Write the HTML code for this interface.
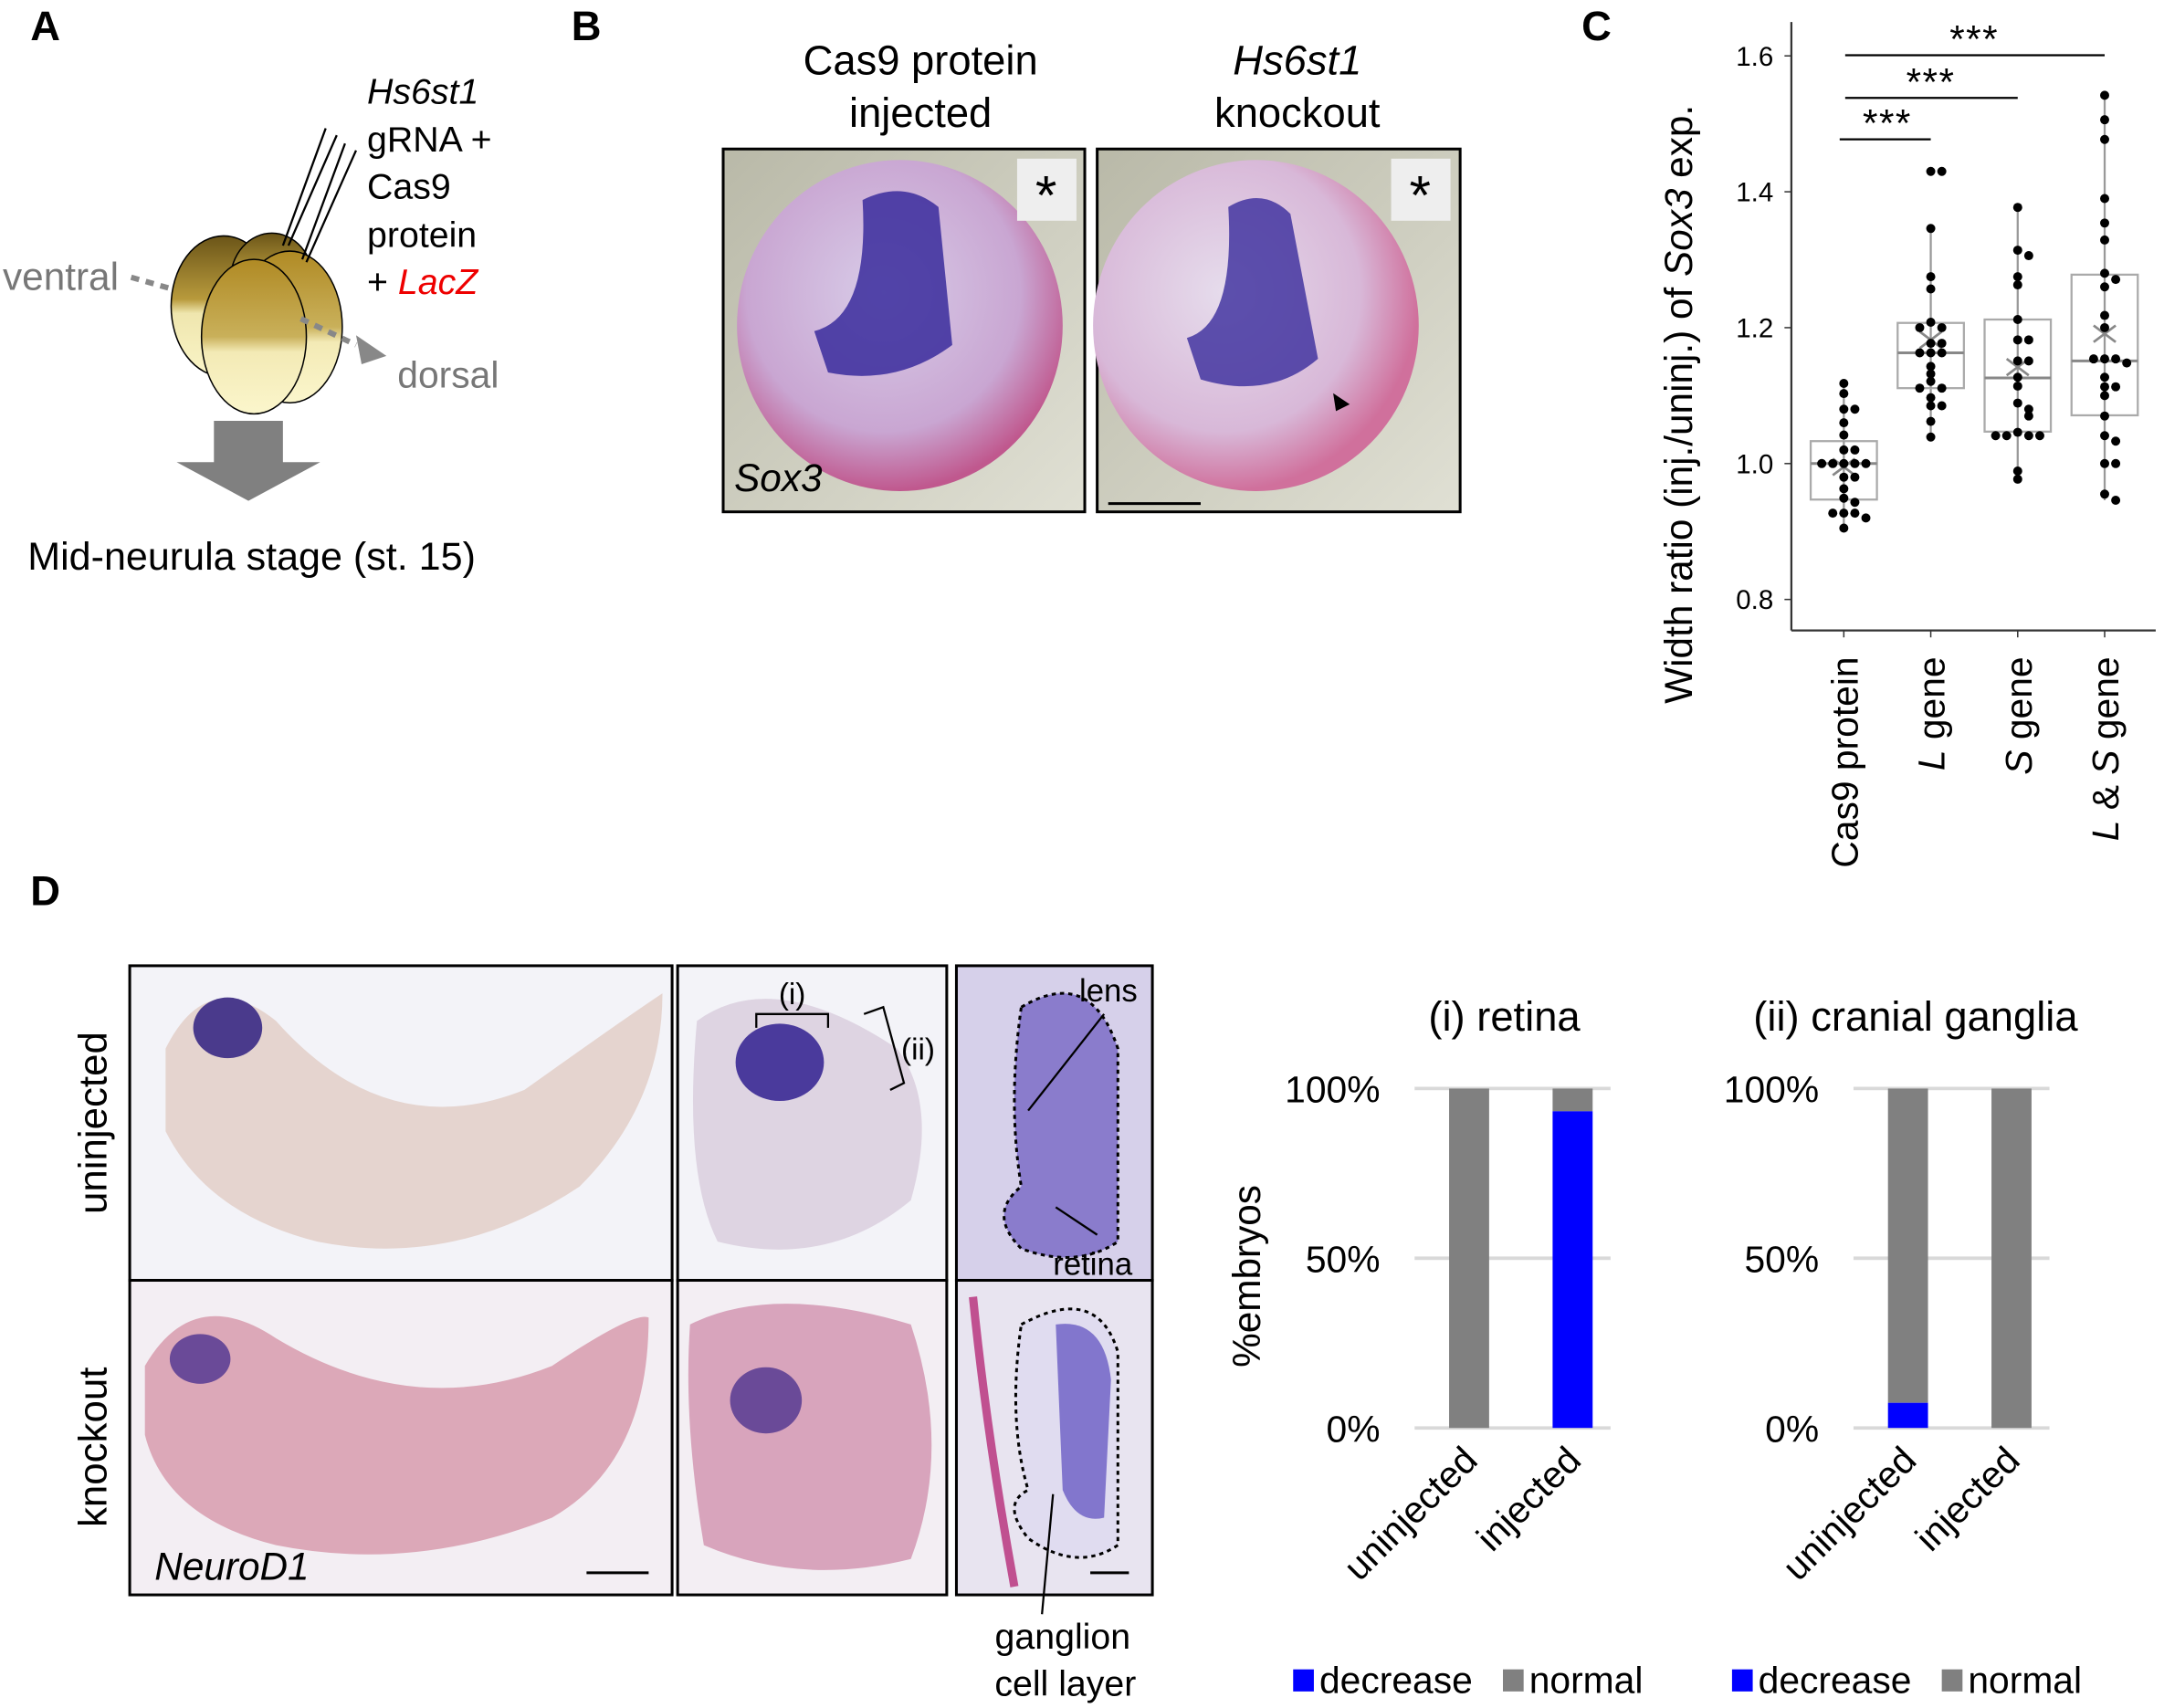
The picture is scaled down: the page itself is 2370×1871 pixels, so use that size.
<!DOCTYPE html>
<html><head><meta charset="utf-8"><style>
html,body{margin:0;padding:0;background:#fff}
svg{display:block}
text{font-family:"Liberation Sans",Arial,sans-serif}
</style></head><body>
<svg id="fig" width="2370" height="1871" viewBox="0 0 1568 1238" preserveAspectRatio="none" xmlns="http://www.w3.org/2000/svg">
<defs>
<linearGradient id="egg" x1="0" y1="0" x2="0" y2="1"><stop offset="0" stop-color="#6b5518"/><stop offset="0.45" stop-color="#b89a3c"/><stop offset="0.55" stop-color="#efe6ae"/><stop offset="1" stop-color="#faf5c8"/></linearGradient>
<linearGradient id="egg2" x1="0" y1="0" x2="0" y2="1"><stop offset="0" stop-color="#b08a24"/><stop offset="0.5" stop-color="#c9b05a"/><stop offset="0.6" stop-color="#f3eab5"/><stop offset="1" stop-color="#fbf6cc"/></linearGradient>
<radialGradient id="emb" cx="0.45" cy="0.4" r="0.6"><stop offset="0" stop-color="#d8cce8"/><stop offset="0.7" stop-color="#c9a6d2"/><stop offset="1" stop-color="#c0588e"/></radialGradient>
<radialGradient id="emb2" cx="0.4" cy="0.4" r="0.6"><stop offset="0" stop-color="#e6dcec"/><stop offset="0.7" stop-color="#d8b8d8"/><stop offset="1" stop-color="#d0709c"/></radialGradient>
<linearGradient id="bg" x1="0" y1="0" x2="1" y2="1"><stop offset="0" stop-color="#b9b9a8"/><stop offset="1" stop-color="#e0e0d4"/></linearGradient>
</defs>

<!-- Panel A -->
<g>
<text x="22" y="29" font-size="30" font-weight="bold">A</text>
<line x1="95" y1="201" x2="130" y2="211" stroke="#888" stroke-width="4" stroke-dasharray="6,5"/>
<ellipse cx="162" cy="222" rx="38" ry="51" fill="url(#egg)" stroke="#000" stroke-width="1"/>
<ellipse cx="197" cy="203" rx="30" ry="34" fill="url(#egg)" stroke="#000" stroke-width="1"/>
<ellipse cx="210" cy="237" rx="38" ry="55" fill="url(#egg2)" stroke="#000" stroke-width="1"/>
<ellipse cx="184" cy="244" rx="38" ry="56" fill="url(#egg2)" stroke="#000" stroke-width="1"/>
<line x1="218" y1="231" x2="258" y2="250" stroke="#888" stroke-width="4" stroke-dasharray="6,5"/>
<polygon points="258,243 280,258 262,264" fill="#888"/>
<line x1="205" y1="178" x2="236" y2="93" stroke="#000" stroke-width="1.5"/>
<line x1="209" y1="178" x2="244" y2="98" stroke="#000" stroke-width="1.5"/>
<line x1="219" y1="188" x2="250" y2="104" stroke="#000" stroke-width="1.5"/>
<line x1="222" y1="190" x2="258" y2="109" stroke="#000" stroke-width="1.5"/>
<text x="2" y="210" font-size="28" fill="#777">ventral</text>
<text x="288" y="281" font-size="27" fill="#777">dorsal</text>
<text x="266" y="75" font-size="26" font-style="italic">Hs6st1</text>
<text x="266" y="110" font-size="26">gRNA +</text>
<text x="266" y="144" font-size="26">Cas9</text>
<text x="266" y="179" font-size="26">protein</text>
<text x="266" y="213" font-size="26">+ <tspan fill="#e00" font-style="italic">LacZ</tspan></text>
<polygon points="155,305 205,305 205,335 232,335 180,363 128,335 155,335" fill="#808080"/>
<text x="20" y="413" font-size="28.5">Mid-neurula stage (st. 15)</text>
</g>

<!-- Panel B -->
<g>
<text x="414" y="29" font-size="30" font-weight="bold">B</text>
<text x="667" y="54" font-size="30" text-anchor="middle">Cas9 protein</text>
<text x="667" y="92" font-size="30" text-anchor="middle">injected</text>
<text x="940" y="54" font-size="30" text-anchor="middle" font-style="italic">Hs6st1</text>
<text x="940" y="92" font-size="30" text-anchor="middle">knockout</text>
<rect x="524" y="108" width="262" height="263" fill="url(#bg)" stroke="#000" stroke-width="2"/>
<rect x="795" y="108" width="263" height="263" fill="url(#bg)" stroke="#000" stroke-width="2"/>
<ellipse cx="652" cy="236" rx="118" ry="120" fill="url(#emb)"/>
<path d="M625 145 Q655 130 680 150 L690 250 Q650 280 600 270 L590 240 Q630 230 625 145Z" fill="#3a2c9c" opacity="0.85"/>
<ellipse cx="910" cy="236" rx="118" ry="120" fill="url(#emb2)"/>
<path d="M890 150 Q915 135 935 155 L955 260 Q920 290 870 275 L860 245 Q895 235 890 150Z" fill="#3a2c9c" opacity="0.8"/>
<rect x="737" y="115" width="43" height="45" fill="#eee"/><text x="758" y="155" font-size="40" text-anchor="middle">*</text>
<rect x="1008" y="115" width="43" height="45" fill="#eee"/><text x="1029" y="155" font-size="40" text-anchor="middle">*</text>
<text x="532" y="356" font-size="28" font-style="italic">Sox3</text>
<polygon points="966,285 978,293 968,298" fill="#000"/>
<line x1="803" y1="365" x2="870" y2="365" stroke="#000" stroke-width="2"/>
</g>

<!-- Panel C -->
<g id="boxplot">
<text x="1146" y="29" font-size="30" font-weight="bold">C</text>
<text transform="translate(1226,510) rotate(-90)" font-size="28">Width ratio (inj./uninj.) of <tspan font-style="italic">Sox3</tspan> exp.</text>
</g>

<!-- Panel D -->
<g>
<text x="22" y="656" font-size="30" font-weight="bold">D</text>
<text transform="translate(77,880) rotate(-90)" font-size="29">uninjected</text>
<text transform="translate(77,1107) rotate(-90)" font-size="29">knockout</text>
<rect x="94" y="700" width="393" height="228" fill="#f3f3f8" stroke="#000" stroke-width="2"/>
<rect x="94" y="928" width="393" height="228" fill="#f3eef3" stroke="#000" stroke-width="2"/>
<path d="M120 760 Q150 700 200 740 Q280 830 380 790 Q450 740 480 720 Q480 800 420 860 Q330 920 230 900 Q150 880 120 820Z" fill="#e5d4cf"/>
<ellipse cx="165" cy="745" rx="25" ry="22" fill="#4a3a8c"/>
<path d="M105 990 Q140 930 200 970 Q300 1030 400 990 Q460 950 470 955 Q470 1060 400 1100 Q300 1140 200 1120 Q120 1100 105 1040Z" fill="#dca8b8"/>
<ellipse cx="145" cy="985" rx="22" ry="18" fill="#6a4a98"/>
<text x="112" y="1145" font-size="28" font-style="italic">NeuroD1</text>
<line x1="425" y1="1140" x2="470" y2="1140" stroke="#000" stroke-width="2"/>
<rect x="491" y="700" width="195" height="228" fill="#f3f3f8" stroke="#000" stroke-width="2"/>
<rect x="491" y="928" width="195" height="228" fill="#f3eef3" stroke="#000" stroke-width="2"/>
<path d="M505 740 Q560 700 650 760 Q680 800 660 870 Q600 920 520 900 Q495 850 505 740Z" fill="#ded4e2"/>
<ellipse cx="565" cy="770" rx="32" ry="28" fill="#4a3a9c"/>
<path d="M500 960 Q560 930 660 960 Q690 1050 660 1130 Q580 1150 510 1120 Q495 1030 500 960Z" fill="#d8a4bc"/>
<ellipse cx="555" cy="1015" rx="26" ry="24" fill="#6a4a98"/>
<path d="M548 745 V735 H600 V745" fill="none" stroke="#000" stroke-width="1.5"/>
<text x="574" y="728" font-size="22" text-anchor="middle">(i)</text>
<path d="M626 735 L640 730 L655 785 L645 790" fill="none" stroke="#000" stroke-width="1.5"/>
<text x="653" y="768" font-size="22">(ii)</text>
<rect x="693" y="700" width="142" height="228" fill="#d6d0ea" stroke="#000" stroke-width="2"/>
<rect x="693" y="928" width="142" height="228" fill="#e8e4f0" stroke="#000" stroke-width="2"/>
<path d="M740 730 Q790 700 810 760 L810 900 Q780 920 740 905 Q715 880 740 860 Q730 800 740 730Z" fill="#8a7ccc" stroke="#000" stroke-width="2" stroke-dasharray="3,3"/>
<path d="M740 960 Q795 930 810 980 L810 1120 Q780 1140 745 1115 Q725 1090 745 1080 Q730 1030 740 960Z" fill="#e0dcf0" stroke="#000" stroke-width="2" stroke-dasharray="3,3"/>
<path d="M765 960 Q800 955 805 1000 L800 1100 Q780 1105 770 1080Z" fill="#6a5cc4" opacity="0.8"/>
<path d="M705 940 Q715 1040 735 1150" stroke="#c05090" stroke-width="6" fill="none"/>
<text x="782" y="726" font-size="23">lens</text>
<line x1="745" y1="805" x2="800" y2="735" stroke="#000" stroke-width="1.5"/>
<text x="763" y="924" font-size="23">retina</text>
<line x1="765" y1="875" x2="795" y2="895" stroke="#000" stroke-width="1.5"/>
<line x1="790" y1="1140" x2="818" y2="1140" stroke="#000" stroke-width="2"/>
<line x1="763" y1="1083" x2="755" y2="1170" stroke="#000" stroke-width="1.5"/>
<text x="770" y="1195" font-size="26" text-anchor="middle">ganglion</text>
<text x="772" y="1229" font-size="26" text-anchor="middle">cell layer</text>
<text transform="translate(913,925) rotate(-90)" font-size="28" text-anchor="middle">%embryos</text>
</g>
<g id="bars"></g>
</svg>
<script>
// ---- Box plot data (panel C) ----
const boxCategories = ["Cas9 protein", "L gene", "S gene", "L & S gene"];
const yTicks = [0.8, 1.0, 1.2, 1.4, 1.6];
const cas9Values = [1.118,1.103,1.08,1.08,1.06,1.042,1.02,1.02,1.0,1.0,1.0,1.0,1.0,0.98,0.98,0.963,0.949,0.943,0.927,0.927,0.927,0.92,0.905];
const lGeneValues = [1.43,1.43,1.346,1.275,1.257,1.208,1.2,1.2,1.177,1.177,1.163,1.163,1.163,1.143,1.132,1.121,1.111,1.111,1.097,1.085,1.085,1.062,1.039];
const sGeneValues = [1.377,1.314,1.306,1.275,1.263,1.212,1.182,1.182,1.151,1.151,1.127,1.114,1.089,1.08,1.07,1.046,1.041,1.041,1.041,1.041,0.989,0.977];
const lsGeneValues = [1.542,1.506,1.477,1.39,1.354,1.329,1.28,1.271,1.26,1.218,1.2,1.154,1.154,1.154,1.148,1.127,1.113,1.113,1.1,1.07,1.041,1.033,1.0,1.0,0.955,0.946];
const boxQ1 = [0.947, 1.111, 1.047, 1.071];
const boxMedian = [1.0, 1.163, 1.126, 1.151];
const boxQ3 = [1.033, 1.207, 1.212, 1.278];
const boxMean = [0.995, 1.182, 1.142, 1.191];
const whiskerLow = [0.905, 1.039, 0.977, 0.946];
const whiskerHigh = [1.118, 1.346, 1.377, 1.542];
const sigLabels = ["***", "***", "***"];
const sigTargets = [1, 2, 3];

// ---- Stacked bars data (panel D) ----
const barGroups = ["uninjected", "injected"];
const retinaDecrease = [0, 93.3];
const gangliaDecrease = [7.4, 0];
const pctTicks = [0, 50, 100];

const NS = "http://www.w3.org/2000/svg";
function mk(parent, tag, attrs, txt) {
  const e = document.createElementNS(NS, tag);
  for (const k in attrs) e.setAttribute(k, attrs[k]);
  if (txt !== undefined) e.textContent = txt;
  parent.appendChild(e);
  return e;
}
const allValues = [cas9Values, lGeneValues, sGeneValues, lsGeneValues];

const yScale = v => 336 - (v - 1.0) / 0.2 * 98.5;
const xCat = i => 1336 + i * 63;
const AX = 1298;

const bp = document.getElementById('boxplot');
let ax = mk(bp, 'line', {x1:AX, y1:16, x2:AX, y2:457, stroke:'#333', 'stroke-width':1.5});


let xa = mk(bp, 'line', {x1:AX, y1:457, x2:1562, y2:457, stroke:'#333', 'stroke-width':1.5});


yTicks.forEach(t => {
  mk(bp, 'line', {x1:AX-5, y1:yScale(t), x2:AX, y2:yScale(t), stroke:'#333'});
  const tl = mk(bp, 'text', {x:AX-13, y:yScale(t)+7, 'font-size':19.5, 'text-anchor':'end'}, t.toFixed(1));
  
  
});
boxCategories.forEach((c, i) => {
  const x = xCat(i);
  mk(bp, 'line', {x1:x, y1:457, x2:x, y2:462, stroke:'#333'});
  const g = mk(bp, 'text', {transform:`translate(${x+10},${476}) rotate(-90)`, 'font-size':27, 'text-anchor':'end'});
  
  
  if (c === "Cas9 protein") g.textContent = c;
  else {
    const parts = c.split(' gene')[0];
    if (parts.includes('&')) { mk(g,'tspan',{'font-style':'italic'}, parts.split(' &')[0]); mk(g,'tspan',{},' & '); mk(g,'tspan',{'font-style':'italic'}, parts.split('& ')[1]); }
    else mk(g, 'tspan', {'font-style':'italic'}, parts);
    mk(g, 'tspan', {}, ' gene');
  }
  const w = mk(bp, 'line', {x1:x, y1:yScale(whiskerLow[i]), x2:x, y2:yScale(whiskerHigh[i]), stroke:'#999', 'stroke-width':1.5});
  
  
  const r = mk(bp, 'rect', {x:x-24, y:yScale(boxQ3[i]), width:48, height:yScale(boxQ1[i])-yScale(boxQ3[i]), fill:'#fff', stroke:'#aaa', 'stroke-width':1.5});
  
  
  mk(bp, 'line', {x1:x, y1:yScale(boxQ3[i]), x2:x, y2:yScale(boxQ1[i]), stroke:'#999', 'stroke-width':1.5});
  const m = mk(bp, 'line', {x1:x-24, y1:yScale(boxMedian[i]), x2:x+24, y2:yScale(boxMedian[i]), stroke:'#888', 'stroke-width':2});
  
  
  const my = yScale(boxMean[i]);
  mk(bp, 'path', {d:`M${x-8} ${my-6} L${x+8} ${my+6} M${x+8} ${my-6} L${x-8} ${my+6}`, stroke:'#888', 'stroke-width':1.8});
  const vals = allValues[i];
  const used = [];
  vals.forEach(v => {
    const py = yScale(v);
    const near = used.filter(u => Math.abs(u - py) < 5).length;
    used.push(py);
    const off = near === 0 ? 0 : (near % 2 ? 1 : -1) * Math.ceil(near / 2) * 8;
    const d = mk(bp, 'circle', {cx:x + off, cy:py, r:3.3, fill:'#000'});
    
    
  });
});
const sigY = [101, 71, 40];
sigTargets.forEach((t, k) => {
  const y = sigY[k];
  const x1 = k === 0 ? xCat(0) - 3 : xCat(0) + 1;
  const l = mk(bp, 'line', {x1:x1, y1:y, x2:xCat(t), y2:y, stroke:'#000', 'stroke-width':1.5});
  
  
  const st = mk(bp, 'text', {x:(xCat(0)+xCat(t))/2, y:y-2, 'font-size':28, 'text-anchor':'middle', 'letter-spacing':'1'}, sigLabels[k]);
  
  
});

// ---- stacked bars ----
const bars = document.getElementById('bars');
const pY = p => 1035 - p / 100 * 246;
function barChart(x0, title, dec, name, tcx) {
  const g = mk(bars, 'g', {});
  
  
  const tt = mk(g, 'text', {x:tcx, y:747, 'font-size':30, 'text-anchor':'middle'}, title);
  
  
  pctTicks.forEach(t => {
    mk(g, 'line', {x1:x0, y1:pY(t), x2:x0+142, y2:pY(t), stroke:'#d9d9d9', 'stroke-width':2.5});
    const tl = mk(g, 'text', {x:x0-25, y:pY(t)+10, 'font-size':27, 'text-anchor':'end'}, t + '%');
    
    
  });
  barGroups.forEach((b, i) => {
    const bx = x0 + 25 + i * 75;
    const n = mk(g, 'rect', {x:bx, y:pY(100), width:29, height:pY(dec[i]) - pY(100), fill:'#808080'});
    
    
    const d = mk(g, 'rect', {x:bx, y:pY(dec[i]), width:29, height:pY(0) - pY(dec[i]), fill:'#0000ff'});
    
    
    const lb = mk(g, 'text', {transform:`translate(${bx+22},${1060}) rotate(-45)`, 'font-size':27, 'text-anchor':'end'}, b);
    
    
  });
  const l1 = mk(g, 'rect', {x:x0-88, y:1210, width:15, height:16, fill:'#0000ff'});
  
  
  mk(g, 'text', {x:x0-69, y:1227, 'font-size':27}, 'decrease');
  const l2 = mk(g, 'rect', {x:x0+64, y:1210, width:15, height:16, fill:'#808080'});
  
  
  mk(g, 'text', {x:x0+83, y:1227, 'font-size':27}, 'normal');
}
barChart(1025, '(i) retina', retinaDecrease, 'retina-chart', 1090);
barChart(1343, '(ii) cranial ganglia', gangliaDecrease, 'cranial-ganglia-chart', 1388);
</script>
</body></html>
